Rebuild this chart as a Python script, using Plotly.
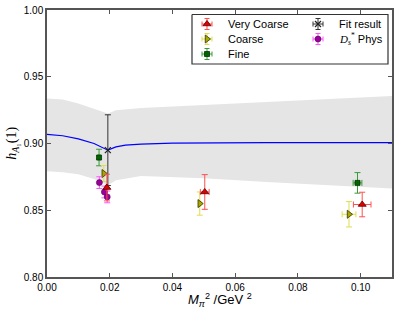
import plotly.graph_objects as go

# ---- data ----
band_x = [0.0, 0.005, 0.010, 0.015, 0.0194, 0.022, 0.030, 0.050, 0.070, 0.090, 0.110]
band_lo = [0.8793, 0.8785, 0.8770, 0.8735, 0.8688, 0.8725, 0.8757, 0.8740, 0.8712, 0.8686, 0.8663]
band_hi = [0.9338, 0.9330, 0.9300, 0.9260, 0.9225, 0.9250, 0.9265, 0.9288, 0.9312, 0.9335, 0.9355]

fit_x = [0.0, 0.005, 0.010, 0.015, 0.0194, 0.022, 0.025, 0.030, 0.040, 0.050, 0.070, 0.090, 0.110]
fit_y = [0.9068, 0.9058, 0.9035, 0.9000, 0.8950, 0.8975, 0.8988, 0.8996, 0.9003, 0.9006, 0.9007, 0.9007, 0.9006]

vc_x = [0.0191, 0.0503, 0.1005]
vc_y = [0.8670, 0.8637, 0.8543]
vc_ey = [0.0100, 0.0130, 0.0092]
vc_ex = [0.0003, 0.0014, 0.0028]

co_x = [0.0181, 0.0487, 0.0963]
co_y = [0.8775, 0.8550, 0.8470]
co_ey = [0.0060, 0.0087, 0.0095]
co_ex = [0.0003, 0.0003, 0.0022]

fi_x = [0.0166, 0.0990]
fi_y = [0.8895, 0.8705]
fi_ey = [0.0062, 0.0077]
fi_ex = [0.0003, 0.0014]

fr_x = [0.0194]
fr_y = [0.8950]
fr_ey = [0.0265]

ds_x = [0.0167, 0.0183, 0.0192]
ds_y = [0.8707, 0.8637, 0.8600]
ds_ey = [0.0044, 0.0044, 0.0044]

x_ticks = [0.00, 0.02, 0.04, 0.06, 0.08, 0.10]
y_ticks = [0.80, 0.85, 0.90, 0.95, 1.00]

legend_names = ["Very Coarse", "Coarse", "Fine", "Fit result",
                "<span style='font-family:Liberation Serif'><i>D</i><sub><i>s</i></sub><sup>*</sup></span> Phys"]

# ---- styles ----
styles = {
    "vc": dict(marker=dict(symbol="triangle-up", size=7, color="#e00000", line=dict(color="#550000", width=0.8)),
               ecol="#ff5050"),
    "co": dict(marker=dict(symbol="triangle-right", size=7, color="#a8a800", line=dict(color="#333300", width=0.8)),
               ecol="#dede50"),
    "fi": dict(marker=dict(symbol="square", size=5, color="#006400", line=dict(color="#003300", width=0.8)),
               ecol="#3a9a3a"),
    "fr": dict(marker=dict(symbol="x-thin", size=6, color="#222222", line=dict(color="#222222", width=1.2)),
               ecol="#333333"),
    "ds": dict(marker=dict(symbol="circle", size=6, color="#9a009a", line=dict(color="#550055", width=0.6)),
               ecol="#ff55ff"),
}

fig = go.Figure()

fig.add_trace(go.Scatter(x=band_x, y=band_lo, mode="lines", line=dict(width=0, color="#e5e5e5"),
                         showlegend=False, hoverinfo="skip"))
fig.add_trace(go.Scatter(x=band_x, y=band_hi, mode="lines", line=dict(width=0, color="#e5e5e5"),
                         fill="tonexty", fillcolor="#e5e5e5", showlegend=False, hoverinfo="skip"))
fig.add_trace(go.Scatter(x=fit_x, y=fit_y, mode="lines", line=dict(color="#0000ff", width=1.2),
                         showlegend=False))


def add_points(key, xs, ys, eys, exs=None):
    st = styles[key]
    kw = dict(error_y=dict(type="data", array=eys, color=st["ecol"], thickness=1, width=3))
    if exs is not None:
        kw["error_x"] = dict(type="data", array=exs, color=st["ecol"], thickness=1, width=3)
    fig.add_trace(go.Scatter(x=xs, y=ys, mode="markers", marker=st["marker"], showlegend=False, **kw))


add_points("fr", fr_x, fr_y, fr_ey)
add_points("fi", fi_x, fi_y, fi_ey, fi_ex)
add_points("co", co_x, co_y, co_ey, co_ex)
add_points("ds", ds_x, ds_y, ds_ey)
add_points("vc", vc_x, vc_y, vc_ey, vc_ex)

# ---- hand-drawn legend on an overlay axis measured in plot pixels ----
box_x = [145, 341, 341, 145, 145]
box_y = [4.5, 4.5, 54, 54, 4.5]
fig.add_trace(go.Scatter(x=box_x, y=box_y, xaxis="x2", yaxis="y2", mode="lines", fill="toself",
                         fillcolor="white", line=dict(color="#333333", width=1.2),
                         showlegend=False, hoverinfo="skip"))
leg_keys = ["vc", "co", "fi", "fr", "ds"]
leg_mx = [160, 160, 160, 271, 271]
leg_my = [14, 29, 44, 14, 29]
for k, mx, my, name in zip(leg_keys, leg_mx, leg_my, legend_names):
    st = styles[k]
    fig.add_trace(go.Scatter(x=[mx], y=[my], xaxis="x2", yaxis="y2", mode="markers", marker=st["marker"],
                             error_x=dict(type="constant", value=5, color=st["ecol"], thickness=1, width=2.5),
                             error_y=dict(type="constant", value=5.5, color=st["ecol"], thickness=1, width=2.5),
                             showlegend=False, hoverinfo="skip"))
    fig.add_annotation(x=mx + 19, y=my, xref="x2", yref="y2", text=name, showarrow=False,
                       xanchor="left", yanchor="middle",
                       font=dict(family="Liberation Sans, Arial", size=11, color="#000000"))

axis_common = dict(showgrid=False, zeroline=False, ticks="inside", ticklen=4, tickwidth=1,
                   tickcolor="#555555", mirror="ticks", showline=True, linecolor="#555555",
                   linewidth=1.5, automargin=False,
                   tickfont=dict(family="Liberation Sans, Arial", size=10, color="#000000"))

fig.update_layout(
    width=399, height=316,
    margin=dict(l=47, r=7, t=10, b=39),
    paper_bgcolor="white", plot_bgcolor="white",
    showlegend=False,
    xaxis=dict(range=[0, 0.11], tickvals=x_ticks, ticktext=[f"{v:.2f}" for v in x_ticks], **axis_common),
    yaxis=dict(range=[0.80, 1.00], tickvals=y_ticks, ticktext=[f"{v:.2f}" for v in y_ticks], **axis_common),
    xaxis2=dict(overlaying="x", range=[0, 345], visible=False, fixedrange=True),
    yaxis2=dict(overlaying="y", range=[267, 0], visible=False, fixedrange=True),
)

fig.add_annotation(x=0.5, y=-0.088, xref="paper", yref="paper", showarrow=False,
                   text="<i>M</i><sub><i>π</i></sub><sup>2</sup> /GeV <sup>2</sup>",
                   xanchor="center", yanchor="middle",
                   font=dict(family="Liberation Sans, Arial", size=13, color="#000000"))
fig.add_annotation(x=-0.101, y=0.5, xref="paper", yref="paper", showarrow=False, textangle=-90,
                   text="<i>h</i><sub><i>A</i>₁</sub>(1)",
                   xanchor="center", yanchor="middle",
                   font=dict(family="Liberation Serif, DejaVu Serif", size=14, color="#000000"))

fig.write_html("out.html", config={"displayModeBar": False},
               post_script="document.body.style.margin='0px';document.body.style.overflow='hidden';")
